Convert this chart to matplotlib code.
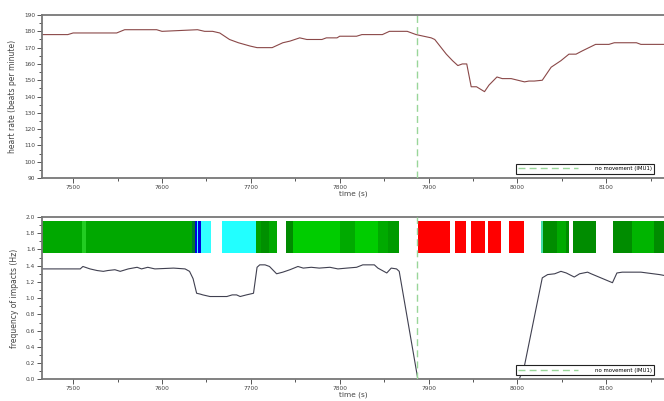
import numpy as np
import matplotlib.pyplot as plt

# =============================================================================
# Data
# =============================================================================
# heart rate (top panel)
hr_t = [7465, 7494, 7500, 7520, 7530, 7549, 7558, 7594, 7600, 7640, 7648, 7657,
        7665, 7676, 7686, 7699, 7707, 7724, 7736, 7744, 7755, 7763, 7780, 7785,
        7797, 7800, 7819, 7825, 7848, 7856, 7876, 7886, 7903, 7907, 7920, 7927,
        7933, 7938, 7943, 7948, 7954, 7963, 7968, 7977, 7983, 7993, 8008, 8013,
        8019, 8028, 8038, 8049, 8058, 8066, 8073, 8088, 8103, 8109, 8134, 8139,
        8165]
hr_v = [178, 178, 179, 179, 179, 179, 181, 181, 180, 181, 180, 180,
        179, 175, 173, 171, 170, 170, 173, 174, 176, 175, 175, 176,
        176, 177, 177, 178, 178, 180, 180, 178, 176, 175, 166, 162,
        159, 160, 160, 146, 146, 143, 147, 152, 151, 151, 149, 149.5,
        149.5, 150, 158, 162, 166, 166, 168, 172, 172, 173, 173, 172,
        172]

# frequency of impacts (bottom panel)
fr_t = [7465, 7508, 7511, 7519, 7527, 7534, 7539, 7547, 7553, 7562, 7572, 7577,
        7584, 7592, 7613, 7626, 7631, 7635, 7639, 7643, 7646, 7654, 7673, 7679,
        7684, 7688, 7695, 7699, 7703, 7707, 7710, 7716, 7721, 7729, 7736, 7744,
        7753, 7759, 7768, 7777, 7789, 7798, 7808, 7819, 7826, 7839, 7843, 7853,
        7858, 7864, 7867, 7888, 8002, 8008, 8028, 8034, 8042, 8049, 8055, 8064,
        8070, 8079, 8083, 8107, 8112, 8118, 8139, 8160, 8165]
fr_v = [1.36, 1.36, 1.39, 1.36, 1.34, 1.33, 1.34, 1.35, 1.33, 1.36, 1.38, 1.36,
        1.38, 1.36, 1.37, 1.36, 1.33, 1.24, 1.06, 1.05, 1.04, 1.02, 1.02, 1.04,
        1.04, 1.02, 1.04, 1.05, 1.06, 1.38, 1.41, 1.41, 1.39, 1.30, 1.32, 1.35,
        1.39, 1.37, 1.38, 1.37, 1.38, 1.36, 1.37, 1.38, 1.41, 1.41, 1.37, 1.31,
        1.37, 1.36, 1.33, 0.0, 0.0, 0.17, 1.25, 1.29, 1.30, 1.33, 1.31, 1.26,
        1.30, 1.32, 1.30, 1.19, 1.31, 1.32, 1.32, 1.29, 1.28]

# activity class bands in the bottom panel
seg_start = [7465, 7510, 7515, 7634, 7637, 7639, 7641, 7644, 7668, 7706, 7712,
             7721, 7740, 7747, 7800, 7817, 7843, 7854, 7888, 7930, 7948, 7967,
             7991, 8027, 8029, 8045, 8055, 8063, 8108, 8129, 8154]
seg_end = [7510, 7515, 7634, 7637, 7639, 7641, 7644, 7655, 7706, 7712, 7721,
           7730, 7747, 7800, 7817, 7843, 7854, 7867, 7924, 7942, 7964, 7982,
           8007, 8029, 8045, 8055, 8058, 8088, 8129, 8154, 8165]
seg_color = ['#00a800', '#22cc22', '#00a800', '#007a30', '#0000dd', '#33ffff',
             '#0000dd', '#33ffff', '#22ffff', '#00a000', '#009000', '#00a800',
             '#008a00', '#00cc00', '#00aa00', '#00cc00', '#00aa00', '#009a00',
             '#ff0000', '#ff0000', '#ff0000', '#ff0000', '#ff0000', '#44ddaa',
             '#008c00', '#00aa00', '#008c00', '#008c00', '#008c00', '#00b400',
             '#008c00']

event_t = 7887
xmin, xmax = 7465, 8165

# =============================================================================
# Plot
# =============================================================================
fig = plt.figure(figsize=(6.64, 4.01), dpi=100)
ax1 = fig.add_axes([0.0633, 0.556, 0.9367, 0.4065])
ax2 = fig.add_axes([0.0633, 0.054, 0.9367, 0.405])

spine_c = '#777777'
tick_fs = 4.2
for ax in (ax1, ax2):
    ax.set_xlim(xmin, xmax)
    for s in ('left', 'top', 'bottom'):
        ax.spines[s].set_color(spine_c)
        ax.spines[s].set_linewidth(1.3)
    ax.spines['right'].set_visible(False)
    ax.set_xticks(np.arange(7500, 8200, 100))
    ax.set_xticks(np.arange(7550, 8200, 100), minor=True)
    ax.tick_params(which='both', colors='#555555', labelsize=tick_fs,
                   labelcolor='#444444', width=0.7)
    ax.tick_params(which='major', length=3.5, pad=1.5)
    ax.tick_params(which='minor', length=2)
    ax.set_xlabel('time (s)', fontsize=5.3, color='#444444', labelpad=0.5)
    ax.axvline(event_t, color='#99d699', ls=(0, (5, 3)), lw=1.0,
               label='no movement (IMU1)', zorder=3)

# top: heart rate
ax1.plot(hr_t, hr_v, color='#8a4848', lw=0.8)
ax1.set_ylim(90, 190)
ax1.set_yticks(np.arange(90, 191, 10))
ax1.set_yticks(np.arange(95, 190, 10), minor=True)
ax1.set_ylabel('heart rate (beats per minute)', fontsize=5.5, color='#444444',
               labelpad=5)

# bottom: impact frequency with class bands
for s, e, c in zip(seg_start, seg_end, seg_color):
    ax2.fill_between([s, e], 1.56, 1.95, color=c, lw=0, zorder=2)
ax2.plot(fr_t, fr_v, color='#404050', lw=0.8, zorder=2)
ax2.set_ylim(0, 2.0)
ax2.set_yticks(np.arange(0, 2.01, 0.2))
ax2.set_yticks(np.arange(0.1, 2.0, 0.2), minor=True)
ax2.set_yticklabels(['%.1f' % v for v in np.arange(0, 2.01, 0.2)])
ax2.set_ylabel('frequency of impacts (Hz)', fontsize=5.5, color='#444444',
               labelpad=5)

for ax in (ax1, ax2):
    leg = ax.legend(loc='lower right', fontsize=3.9, handlelength=11,
                    handletextpad=3.2, fancybox=False, framealpha=1,
                    borderpad=0.45, bbox_to_anchor=(0.989, 0.01))
    leg.get_frame().set_edgecolor('#222222')
    leg.get_frame().set_linewidth(0.8)

fig.savefig('out.png', dpi=100)
